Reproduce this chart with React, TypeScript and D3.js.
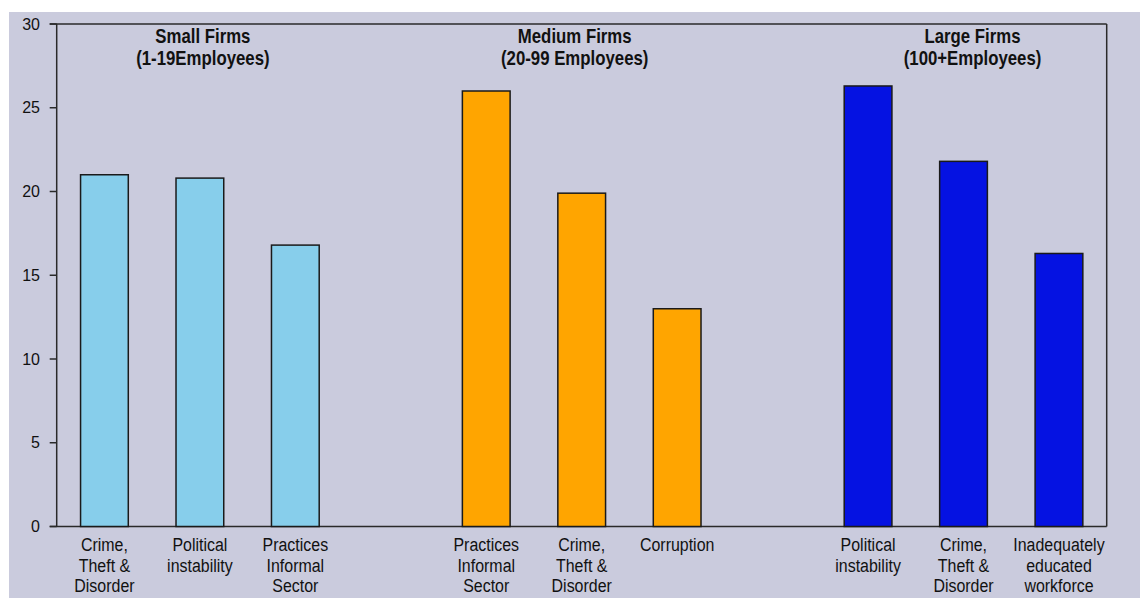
import React from "react";
import * as d3 from "d3";

const groupTitles = ["Small Firms", "Medium Firms", "Large Firms"];
const groupSubtitles = ["(1-19Employees)", "(20-99 Employees)", "(100+Employees)"];
const groupColors = ["#87CEEB", "#FFA500", "#0512E2"];

const smallLabels = ["Crime,\nTheft &\nDisorder", "Political\ninstability", "Practices\nInformal\nSector"];
const smallValues = [21.0, 20.8, 16.8];
const mediumLabels = ["Practices\nInformal\nSector", "Crime,\nTheft &\nDisorder", "Corruption"];
const mediumValues = [26.0, 19.9, 13.0];
const largeLabels = ["Political\ninstability", "Crime,\nTheft &\nDisorder", "Inadequately\neducated\nworkforce"];
const largeValues = [26.3, 21.8, 16.3];

const yTicks = [0, 5, 10, 15, 20, 25, 30];

const W = 1140;
const H = 598;
const left = 56.7;
const right = 1106.7;
const top = 24;
const bottom = 526.5;

const groupsData = [
  { labels: smallLabels, values: smallValues },
  { labels: mediumLabels, values: mediumValues },
  { labels: largeLabels, values: largeValues },
];

type Bar = { key: string; label: string; value: number; group: number };
const bars: Bar[] = [];
const slots: string[] = [];
groupsData.forEach((g, gi) => {
  if (gi > 0) slots.push(`gap${gi}`);
  g.labels.forEach((l, i) => {
    const key = `g${gi}-${i}`;
    slots.push(key);
    bars.push({ key, label: l, value: g.values[i], group: gi });
  });
});

const titleOffsets = [3, -7, 9];
const font = "'Liberation Sans', Arial, sans-serif";

export default function App() {
  const x = d3.scaleBand<string>().domain(slots).range([left, right]).paddingInner(0.5).paddingOuter(0.25);
  const y = d3.scaleLinear().domain([0, 30]).range([bottom, top]);
  const axisColor = "#2a2a2a";

  return (
    <svg width={W} height={H} style={{ position: "absolute", left: 0, top: 0 }}>
      <rect x={9} y={12} width={W - 9} height={H - 12} fill="#CACBDD" />
      <line x1={left - 7} x2={right} y1={top} y2={top} stroke={axisColor} strokeWidth={1.5} />
      <line x1={left - 7} x2={right} y1={bottom} y2={bottom} stroke={axisColor} strokeWidth={1.5} />
      <line x1={left} x2={left} y1={top} y2={bottom} stroke={axisColor} strokeWidth={1.5} />
      <line x1={right} x2={right} y1={top} y2={bottom} stroke={axisColor} strokeWidth={1.5} />
      {yTicks.map((t) => (
        <g key={t}>
          <line x1={left - 7} x2={left} y1={y(t)} y2={y(t)} stroke={axisColor} strokeWidth={1.5} />
          <text x={40} y={y(t)} dy="0.35em" textAnchor="end" fontFamily={font} fontSize={16} fill="#111">
            {t}
          </text>
        </g>
      ))}
      {bars.map((b) => (
        <rect
          key={b.key}
          x={x(b.key)!}
          y={y(b.value)}
          width={x.bandwidth()}
          height={y(0) - y(b.value)}
          fill={groupColors[b.group]}
          stroke="#1a1a1a"
          strokeWidth={1.5}
        />
      ))}
      {bars.map((b) => {
        const cx = x(b.key)! + x.bandwidth() / 2;
        return (
          <g key={b.key + "l"} transform={`translate(${cx},0) scale(0.84,1)`}>
            <text textAnchor="middle" fontFamily={font} fontSize={19} fill="#111">
              {b.label.split("\n").map((ln, i) => (
                <tspan key={i} x={0} y={551.5 + i * 20.5}>
                  {ln}
                </tspan>
              ))}
            </text>
          </g>
        );
      })}
      {groupTitles.map((t, gi) => {
        const mid = `g${gi}-1`;
        const cx = x(mid)! + x.bandwidth() / 2 + titleOffsets[gi];
        return (
          <g key={t} transform={`translate(${cx},0) scale(0.84,1)`}>
            <text textAnchor="middle" fontFamily={font} fontWeight="bold" fontSize={20} fill="#111">
              <tspan x={0} y={43}>{t}</tspan>
              <tspan x={0} y={65}>{groupSubtitles[gi]}</tspan>
            </text>
          </g>
        );
      })}
    </svg>
  );
}
